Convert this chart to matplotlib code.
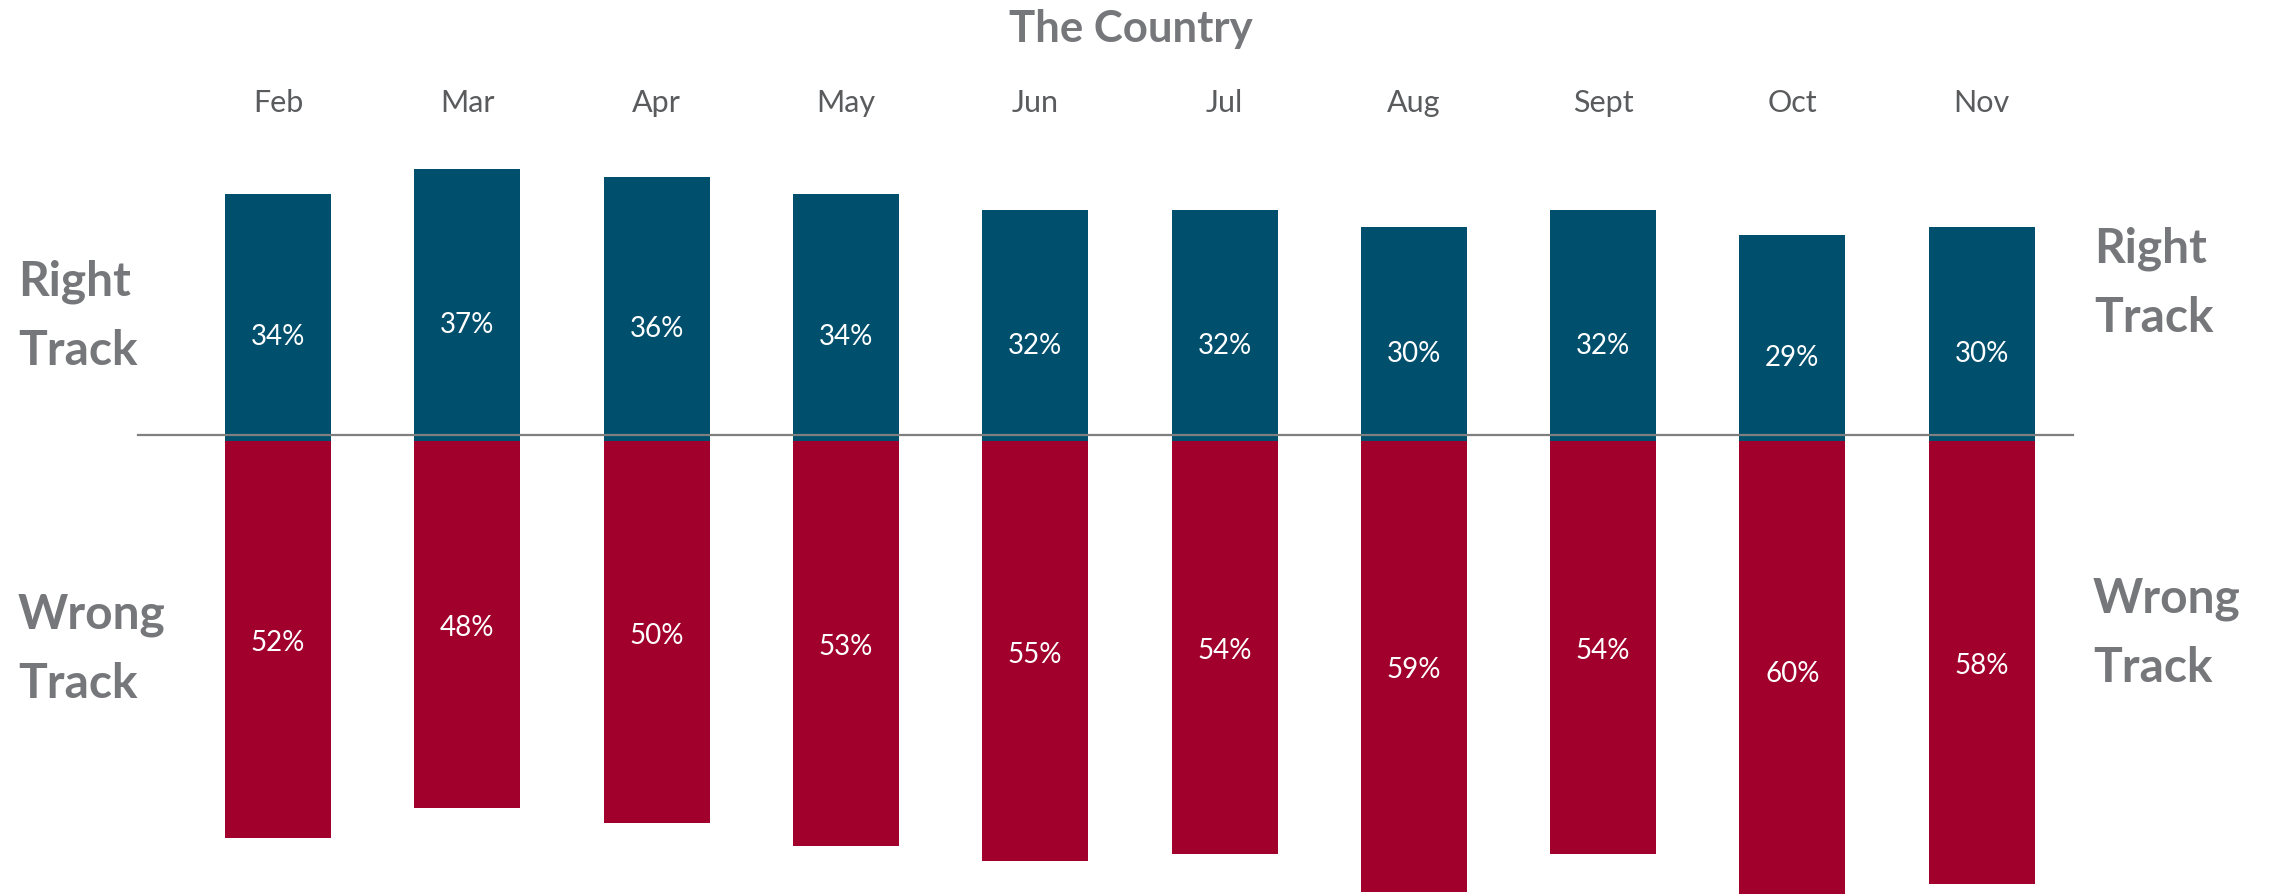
import matplotlib
matplotlib.use("Agg")
import matplotlib.pyplot as plt
from matplotlib.lines import Line2D
from matplotlib.transforms import blended_transform_factory

plt.rcParams['font.family'] = ['Lato', 'DejaVu Sans']

# ---- data ----
months = ["Feb", "Mar", "Apr", "May", "Jun", "Jul", "Aug", "Sept", "Oct", "Nov"]
right_track = [34, 37, 36, 34, 32, 32, 30, 32, 29, 30]
wrong_track = [52, 48, 50, 53, 55, 54, 59, 54, 60, 58]
title = "The Country"
right_label = "Right\nTrack"
wrong_label = "Wrong\nTrack"

# ---- style / layout ----
BLUE = "#004F6D"
RED = "#A0002B"
GRAY = "#76777A"
MONTH_GRAY = "#5A5B5D"
W, H = 2270, 895
DPI = 100

def fx(px):
    return px / W

def fy(py):
    return 1 - py / H

fig = plt.figure(figsize=(W / DPI, H / DPI), dpi=DPI)
fig.patch.set_facecolor("white")

x0_px, step_px, bar_px = 278, 189.3, 106
xlim = (-x0_px / step_px, (W - x0_px) / step_px)
bar_w = bar_px / step_px

# top axes (Right Track): zero at 475 px, 8.25 px per %
top_zero, top_top, top_scale = 475, 100, 8.25
ax_top = fig.add_axes([0, fy(top_zero), 1, (top_zero - top_top) / H])
ax_top.set_xlim(*xlim)
ax_top.set_ylim(0, (top_zero - top_top) / top_scale)

# bottom axes (Wrong Track): zero at 442 px, 7.64 px per %, growing downward
bot_zero, bot_scale = 442, 7.64
ax_bot = fig.add_axes([0, 0, 1, (H - bot_zero) / H])
ax_bot.set_xlim(*xlim)
ax_bot.set_ylim((H - bot_zero) / bot_scale, 0)
ax_bot.set_zorder(1)
ax_bot.patch.set_visible(False)

for ax in (ax_top, ax_bot):
    ax.axis("off")

xs = list(range(len(months)))
ax_top.bar(xs, right_track, width=bar_w, color=BLUE, align="center")
ax_bot.bar(xs, wrong_track, width=bar_w, color=RED, align="center")

for x, v in zip(xs, right_track):
    ax_top.text(x, v / 2, f"{v}%", ha="center", va="center_baseline",
                color="white", fontsize=20)
for x, v in zip(xs, wrong_track):
    ax_bot.text(x, v / 2, f"{v}%", ha="center", va="center_baseline",
                color="white", fontsize=20)

# month labels
tr = blended_transform_factory(ax_top.transData, fig.transFigure)
for x, m in zip(xs, months):
    ax_top.text(x, fy(112), m, transform=tr, ha="center", va="baseline",
                color=MONTH_GRAY, fontsize=22, clip_on=False)

# title
fig.text(fx(1131), fy(42), title, ha="center", va="baseline",
         color=GRAY, fontsize=31.5, fontweight="bold")

# side labels (y = baseline of the last line)
lab_kw = dict(ha="left", va="baseline", color=GRAY, fontsize=34.5,
              fontweight="bold", linespacing=1.7)
fig.text(fx(18), fy(365), right_label, **lab_kw)
fig.text(fx(2094), fy(332), right_label, **lab_kw)
fig.text(fx(18), fy(698), wrong_label, **lab_kw)
fig.text(fx(2093), fy(682), wrong_label, **lab_kw)

# divider line
fig.add_artist(Line2D([fx(138), fx(2073)], [fy(436), fy(436)],
                      transform=fig.transFigure, color="#7F7F7F", lw=1.6,
                      zorder=5))

fig.savefig("out.png", dpi=DPI, facecolor="white")
